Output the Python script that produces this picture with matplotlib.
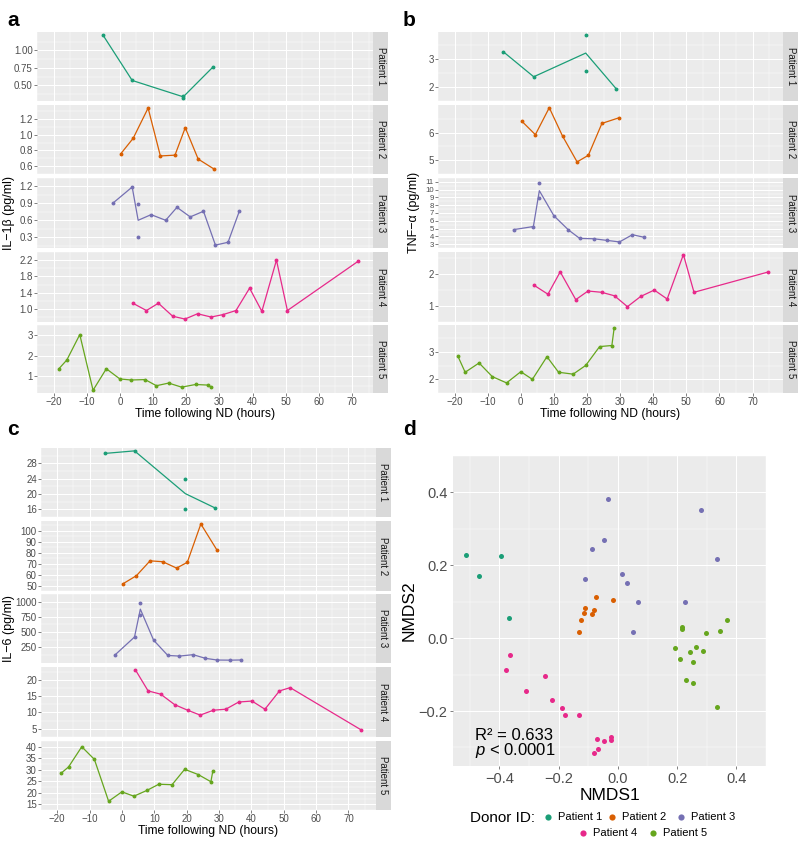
import numpy as np
import pandas as pd
import matplotlib
matplotlib.use("Agg")
import matplotlib.pyplot as plt

plt.rcParams['font.family'] = ['Liberation Sans', 'DejaVu Sans']
plt.rcParams['mathtext.fontset'] = 'custom'
plt.rcParams['mathtext.it'] = 'Liberation Sans:italic'
plt.rcParams['mathtext.rm'] = 'Liberation Sans'

# ---------------------------------------------------------------
# data
# ---------------------------------------------------------------
patients = ["Patient 1", "Patient 2", "Patient 3", "Patient 4", "Patient 5"]
colors = ["#1B9E77", "#D95F02", "#7570B3", "#E7298A", "#66A61E"]

# IL-1b
il1b_x = [
    [-5.1, 3.7, 19.1, 19.1, 28.0],
    [0.3, 4.0, 8.5, 12.2, 16.6, 19.7, 23.6, 28.5],
    [-2.2, 3.7, 5.5, 5.5, 9.4, 13.8, 17.2, 21.2, 25.2, 28.8, 32.6, 36.0],
    [3.9, 8.0, 11.6, 15.9, 19.6, 23.4, 27.5, 31.1, 35.0, 39.1, 42.8, 47.2, 50.5, 71.8],
    [-18.4, -16.0, -12.1, -8.1, -4.1, 0.0, 3.4, 7.6, 11.0, 14.7, 18.6, 22.8, 26.7, 27.5],
]
il1b_y = [
    [1.22, 0.57, 0.35, 0.32, 0.76],
    [0.76, 0.955, 1.34, 0.73, 0.74, 1.09, 0.69, 0.56],
    [0.90, 1.19, 0.89, 0.31, 0.70, 0.60, 0.83, 0.66, 0.76, 0.16, 0.21, 0.76],
    [1.14, 0.96, 1.14, 0.82, 0.75, 0.88, 0.80, 0.86, 0.96, 1.51, 0.94, 2.20, 0.96, 2.17],
    [1.36, 1.79, 3.03, 0.31, 1.36, 0.86, 0.81, 0.83, 0.53, 0.66, 0.46, 0.59, 0.56, 0.46],
]
il1b_ticks = [[0.5, 0.75, 1.0], [0.6, 0.8, 1.0, 1.2], [0.3, 0.6, 0.9, 1.2],
              [1.0, 1.4, 1.8, 2.2], [1, 2, 3]]
il1b_fmt = ["{:.2f}", "{:.1f}", "{:.1f}", "{:.1f}", "{:g}"]

# TNF-a
tnf_x = [
    [-5.3, 3.9, 19.6, 19.6, 28.8],
    [0.3, 4.4, 8.6, 12.6, 17.0, 20.4, 24.5, 29.8],
    [-2.2, 3.8, 5.6, 5.6, 10.0, 14.4, 17.8, 22.0, 26.0, 29.8, 33.7, 37.1],
    [4.0, 8.2, 11.9, 16.6, 20.3, 24.4, 28.3, 32.2, 36.2, 40.3, 44.2, 49.1, 52.3, 74.5],
    [-19.0, -16.8, -12.6, -8.6, -4.3, 0.0, 3.5, 7.9, 11.4, 15.8, 19.6, 23.8, 27.5, 28.2],
]
tnf_y = [
    [3.27, 2.37, 3.88, 2.56, 1.94],
    [6.42, 5.93, 6.91, 5.88, 4.94, 5.18, 6.34, 6.55],
    [4.86, 5.26, 10.84, 8.9, 6.64, 4.82, 3.73, 3.69, 3.48, 3.28, 4.21, 3.89],
    [1.65, 1.37, 2.07, 1.20, 1.47, 1.43, 1.32, 0.98, 1.30, 1.50, 1.22, 2.61, 1.43, 2.06],
    [2.85, 2.26, 2.60, 2.10, 1.87, 2.28, 2.00, 2.83, 2.26, 2.19, 2.51, 3.20, 3.24, 3.89],
]
tnf_ticks = [[2, 3], [5, 6], [3, 4, 5, 6, 7, 8, 9, 10, 11], [1, 2], [2, 3]]
tnf_fmt = ["{:g}"] * 5

# IL-6
il6_x = [
    [-5.1, 3.9, 19.6, 19.6, 28.7],
    [0.4, 4.5, 8.7, 12.6, 16.9, 20.2, 24.4, 29.3],
    [-2.0, 3.9, 5.7, 5.7, 9.8, 14.2, 17.8, 22.0, 25.8, 29.4, 33.5, 36.9],
    [4.2, 8.1, 12.0, 16.3, 20.3, 24.2, 28.3, 32.1, 36.1, 40.2, 44.2, 48.7, 52.0, 73.9],
    [-18.7, -16.5, -12.4, -8.5, -4.1, 0.0, 3.7, 7.7, 11.4, 15.5, 19.4, 23.6, 27.5, 28.1],
]
il6_y = [
    [30.6, 31.25, 24.0, 16.2, 16.4],
    [51.7, 59.0, 72.5, 71.7, 65.9, 71.1, 106.1, 82.7],
    [130, 418, 976, 776, 366, 115, 105, 128, 68, 40, 38, 41],
    [23.0, 16.6, 15.6, 12.4, 10.7, 9.2, 10.7, 11.0, 13.2, 13.5, 11.0, 16.6, 17.6, 4.7],
    [28.6, 31.2, 40.0, 34.5, 16.3, 20.4, 18.5, 21.0, 23.7, 23.5, 30.2, 27.9, 24.8, 29.4],
]
il6_ticks = [[16, 20, 24, 28], [50, 60, 70, 80, 90, 100], [250, 500, 750, 1000],
             [5, 10, 15, 20], [15, 20, 25, 30, 35, 40]]
il6_fmt = ["{:g}"] * 5

time_ticks = [-20, -10, 0, 10, 20, 30, 40, 50, 60, 70]

# NMDS
nmds1 = [
    [-0.513, -0.394, -0.468, -0.369],
    [-0.075, -0.018, -0.110, -0.116, -0.082, -0.086, -0.126, -0.133],
    [-0.035, -0.046, -0.088, -0.111, 0.014, 0.032, 0.068, 0.052, 0.281, 0.334, 0.225],
    [-0.366, -0.379, -0.247, -0.310, -0.221, -0.190, -0.179, -0.131,
     -0.072, -0.046, -0.023, -0.023, -0.067, -0.080],
    [0.215, 0.217, 0.296, 0.346, 0.367, 0.192, 0.263, 0.288, 0.244,
     0.211, 0.254, 0.229, 0.254, 0.336],
]
nmds2 = [
    [0.228, 0.225, 0.170, 0.054],
    [0.114, 0.104, 0.083, 0.068, 0.077, 0.067, 0.049, 0.017],
    [0.381, 0.269, 0.244, 0.162, 0.175, 0.151, 0.100, 0.016, 0.352, 0.216, 0.099],
    [-0.045, -0.086, -0.104, -0.145, -0.169, -0.193, -0.210, -0.210,
     -0.278, -0.281, -0.271, -0.279, -0.303, -0.316],
    [0.025, 0.030, 0.013, 0.021, 0.051, -0.026, -0.023, -0.034, -0.039,
     -0.058, -0.065, -0.115, -0.124, -0.189],
]
nmds_xticks = [-0.4, -0.2, 0.0, 0.2, 0.4]
nmds_yticks = [-0.2, 0.0, 0.2, 0.4]

# ---------------------------------------------------------------
# figure
# ---------------------------------------------------------------
W, H = 800, 844
fig = plt.figure(figsize=(W / 100, H / 100), dpi=100)

BG = "#EBEBEB"
TICKC = "#4D4D4D"


def px_axes(x0, y0, x1, y1):
    return fig.add_axes([x0 / W, 1 - y1 / H, (x1 - x0) / W, (y1 - y0) / H])


def minors(ticks):
    t = np.asarray(ticks, dtype=float)
    step = t[1] - t[0]
    return np.arange(t[0] - step / 2, t[-1] + step, step)


def gg_axes(ax):
    ax.set_facecolor(BG)
    for s in ax.spines.values():
        s.set_visible(False)
    ax.set_axisbelow(True)
    ax.grid(True, which="major", color="white", lw=0.75)
    ax.grid(True, which="minor", color="white", lw=0.35)


def draw_facets(xs, ys, yticks, yfmt, x0, x1, rows, ylabel, ylab_x, xlab_y):
    allx = [v for xx in xs for v in xx]
    span = max(allx) - min(allx)
    xlim = (min(allx) - 0.05 * span, max(allx) + 0.05 * span)
    for i, (top, bot) in enumerate(rows):
        ax = px_axes(x0, top, x1, bot)
        gg_axes(ax)
        df = pd.DataFrame({"x": xs[i], "y": ys[i]})
        m = df.groupby("x")["y"].mean()
        ax.plot(m.index, m.values, color=colors[i], lw=0.9, zorder=3)
        ax.plot(df["x"], df["y"], "o", color=colors[i], ms=1.8, zorder=4)
        ax.set_xlim(*xlim)
        lo, hi = min(ys[i]), max(ys[i])
        pad = 0.05 * (hi - lo)
        ax.set_ylim(lo - pad, hi + pad)
        ax.set_xticks(time_ticks)
        ax.set_xticks(minors(time_ticks), minor=True)
        ax.set_yticks(yticks[i])
        ax.set_yticklabels([yfmt[i].format(v) for v in yticks[i]])
        ax.set_yticks(minors(yticks[i]), minor=True)
        # dense tick sets get slightly smaller labels
        ysize = 5.6 if len(yticks[i]) > 6 else 7
        ax.tick_params(which="both", labelsize=7, colors=TICKC, length=2,
                       width=0.5, pad=1)
        ax.tick_params(axis="y", labelsize=ysize)
        ax.tick_params(which="minor", length=0)
        if i < len(rows) - 1:
            ax.tick_params(axis="x", which="both", length=0, labelbottom=False)
        else:
            ax.set_xticklabels(["\u221220", "\u221210"] + [str(t) for t in time_ticks[2:]])
        sax = px_axes(x1, top, x1 + 15, bot)
        sax.set_facecolor("#D9D9D9")
        sax.set_xticks([])
        sax.set_yticks([])
        for s in sax.spines.values():
            s.set_visible(False)
        sax.text(0.5, 0.5, patients[i], rotation=-90, ha="center", va="center",
                 fontsize=7, color="#1A1A1A", transform=sax.transAxes)
    ymid = (rows[0][0] + rows[-1][1]) / 2
    fig.text(ylab_x / W, 1 - ymid / H, ylabel, rotation=90, ha="center",
             va="center", fontsize=9)
    fig.text((x0 + x1) / 2 / W, 1 - xlab_y / H, "Time following ND (hours)",
             ha="center", va="center", fontsize=8.7)


rows_top = [(32, 101), (105, 174), (178, 248), (252, 322), (325, 393)]
rows_bot = [(448, 517), (521, 591), (594, 663), (667, 737), (741, 810)]

draw_facets(il1b_x, il1b_y, il1b_ticks, il1b_fmt, 37, 373, rows_top,
            "IL\u22121\u03b2 (pg/ml)", 9, 414)
draw_facets(tnf_x, tnf_y, tnf_ticks, tnf_fmt, 438, 783, rows_top,
            "TNF\u2212\u03b1 (pg/ml)", 414, 414)
draw_facets(il6_x, il6_y, il6_ticks, il6_fmt, 41, 376, rows_bot,
            "IL\u22126 (pg/ml)", 9, 831)

# ---------------------------------------------------------------
# panel d - NMDS
# ---------------------------------------------------------------
ax = px_axes(453, 456, 766, 766)
gg_axes(ax)
for i in range(5):
    ax.scatter(nmds1[i], nmds2[i], s=13, color=colors[i], linewidths=0, zorder=3)
ax.margins(0.05)
ax.set_xticks(nmds_xticks)
ax.set_xticklabels([f"{v:.1f}".replace("-", "\u2212") for v in nmds_xticks])
ax.set_xticks(minors(nmds_xticks), minor=True)
ax.set_yticks(nmds_yticks)
ax.set_yticklabels([f"{v:.1f}".replace("-", "\u2212") for v in nmds_yticks])
ax.set_yticks(minors(nmds_yticks), minor=True)
ax.tick_params(which="both", labelsize=10.5, colors=TICKC, length=2.5, width=0.5, pad=1.5)
ax.tick_params(which="minor", length=0)
ax.set_autoscale_on(False)
ax.text(-0.482, -0.267, "R\u00b2 = 0.633", fontsize=12, va="center", ha="left")
ax.text(-0.482, -0.309, "$p$ < 0.0001", fontsize=12, va="center", ha="left")

fig.text(610 / W, 1 - 795 / H, "NMDS1", ha="center", va="center", fontsize=12.5)
fig.text(409 / W, 1 - 611 / H, "NMDS2", ha="center", va="center", fontsize=12.5,
         rotation=90)

# legend
lax = px_axes(400, 805, 800, 844)
lax.set_xlim(400, 800)
lax.set_ylim(844, 805)
lax.axis("off")
lax.text(470, 818, "Donor ID:", fontsize=11, va="center", ha="left")
leg_pos = [(548, 817), (612, 817), (681, 817), (583, 833), (653, 833)]
for i, (lx, ly) in enumerate(leg_pos):
    lax.scatter([lx], [ly], s=20, color=colors[i], linewidths=0, clip_on=False)
    lax.text(lx + 10, ly, patients[i], fontsize=8, va="center", ha="left")

# panel tags
for tag, tx, ty in [("a", 7, 11), ("b", 403, 11), ("c", 7, 420), ("d", 403, 420)]:
    fig.text(tx / W, 1 - ty / H, tag, fontsize=15, fontweight="bold",
             ha="left", va="top")

fig.savefig("out.png", dpi=100)
